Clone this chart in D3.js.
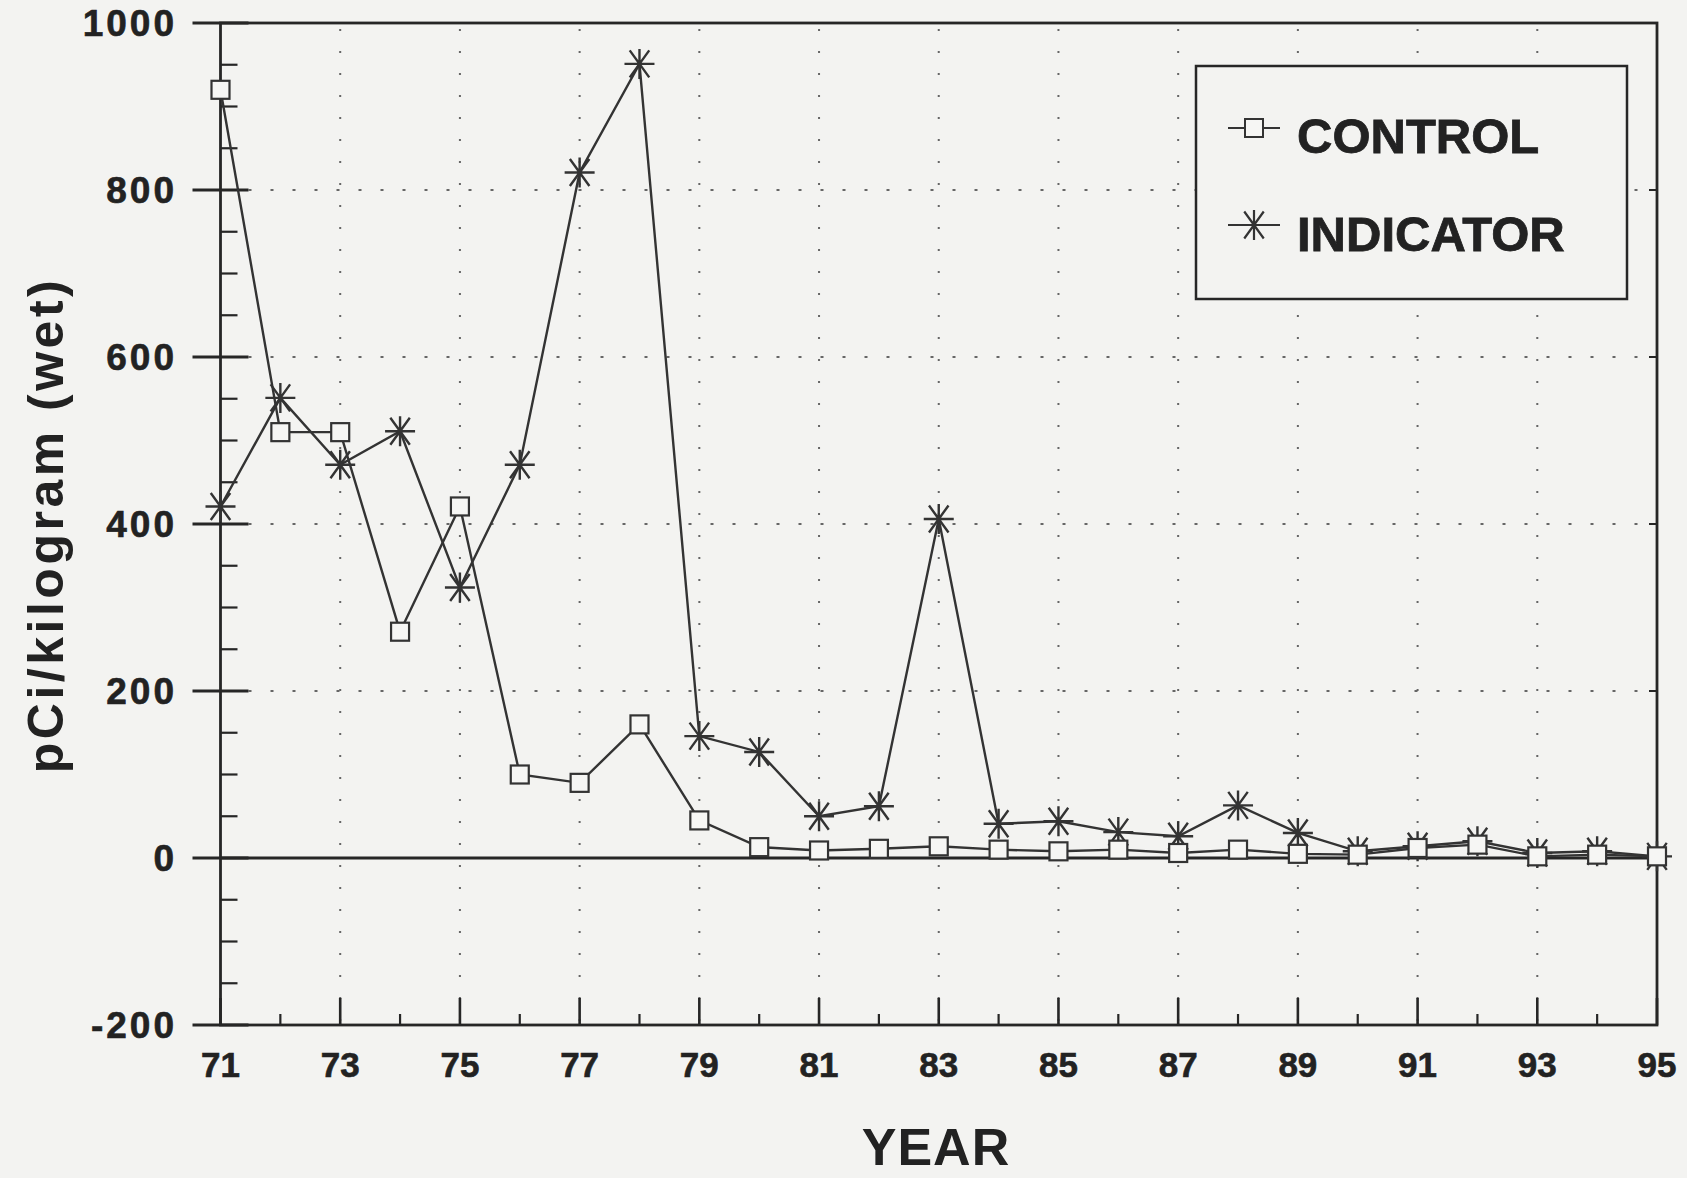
<!DOCTYPE html>
<html>
<head>
<meta charset="utf-8">
<script src="https://cdn.jsdelivr.net/npm/d3@7"></script>
<style>
  html, body { margin: 0; padding: 0; background: #f3f3f1; }
  svg { display: block; }
  text { font-family: "Liberation Sans", Arial, Helvetica, sans-serif; font-weight: bold; fill: #222; }
</style>
</head>
<body>
<svg id="chart" width="1687" height="1178"></svg>
<script>
// ---- data ----
const years = [71,72,73,74,75,76,77,78,79,80,81,82,83,84,85,86,87,88,89,90,91,92,93,94,95];
const controlValues = [920,510,510,271,421,100,90,160,45,13,9,11,14,10,8,10,6,10,5,4,12,16,2,4,2];
const indicatorValues = [421,551,471,511,324,471,821,951,146,127,50,62,406,41,44,31,26,63,30,8,14,20,6,8,2];
const seriesNames = ["CONTROL", "INDICATOR"];
const xTickLabels = [71,73,75,77,79,81,83,85,87,89,91,93,95];
const yTickLabels = [-200,0,200,400,600,800,1000];
const yGridValues = [200,400,600,800];
const xGridValues = [73,75,77,79,81,83,85,87,89,91,93];

// ---- layout ----
const svg = d3.select("#chart");
const L = 220.5, R = 1657, T = 23, B = 1025;
const x = d3.scaleLinear().domain([71, 95]).range([L, R]);
const y = d3.scaleLinear().domain([-200, 1000]).range([B, T]);
const ink = "#262626";

// grid
svg.append("g").selectAll("line").data(xGridValues).join("line")
  .attr("x1", d => x(d)).attr("x2", d => x(d)).attr("y1", T + 6).attr("y2", B)
  .attr("stroke", "#666").attr("stroke-width", 2).attr("stroke-dasharray", "2,20");
svg.append("g").selectAll("line").data(yGridValues).join("line")
  .attr("x1", L + 6).attr("x2", R).attr("y1", d => y(d)).attr("y2", d => y(d))
  .attr("stroke", "#666").attr("stroke-width", 2).attr("stroke-dasharray", "3,19");

// zero line
svg.append("line").attr("x1", L).attr("x2", R).attr("y1", y(0)).attr("y2", y(0))
  .attr("stroke", ink).attr("stroke-width", 2.8);

// frame
svg.append("rect").attr("x", L).attr("y", T).attr("width", R - L).attr("height", B - T)
  .attr("fill", "none").attr("stroke", ink).attr("stroke-width", 2.8);

// y ticks: major crossing axis, minor inside
svg.append("g").selectAll("line").data(yTickLabels).join("line")
  .attr("x1", L - 28).attr("x2", L + 28).attr("y1", d => y(d)).attr("y2", d => y(d))
  .attr("stroke", ink).attr("stroke-width", 2.8);
const yMinor = d3.range(-150, 1000, 50).filter(v => v % 200 !== 0);
svg.append("g").selectAll("line").data(yMinor).join("line")
  .attr("x1", L).attr("x2", L + 17).attr("y1", d => y(d)).attr("y2", d => y(d))
  .attr("stroke", ink).attr("stroke-width", 2.2);
svg.append("g").selectAll("line").data(yTickLabels).join("line")
  .attr("x1", R - 8).attr("x2", R).attr("y1", d => y(d)).attr("y2", d => y(d))
  .attr("stroke", ink).attr("stroke-width", 2);

// x ticks: major at odd years, minor at even
svg.append("g").selectAll("line").data(xTickLabels).join("line")
  .attr("x1", d => x(d)).attr("x2", d => x(d)).attr("y1", B).attr("y2", B - 27)
  .attr("stroke", ink).attr("stroke-width", 2.6);
svg.append("g").selectAll("line").data(years.filter(v => v % 2 === 0)).join("line")
  .attr("x1", d => x(d)).attr("x2", d => x(d)).attr("y1", B).attr("y2", B - 11)
  .attr("stroke", ink).attr("stroke-width", 2.2);

// y tick labels
svg.append("g").selectAll("text").data(yTickLabels).join("text")
  .attr("x", 174 + 3).attr("y", d => y(d) + 13)
  .attr("text-anchor", "end").attr("font-size", 37).attr("letter-spacing", 3)
  .attr("stroke", "#222").attr("stroke-width", 0.6)
  .text(d => d);

// x tick labels
svg.append("g").selectAll("text").data(xTickLabels).join("text")
  .attr("x", d => x(d)).attr("y", 1077)
  .attr("text-anchor", "middle").attr("font-size", 35)
  .attr("stroke", "#222").attr("stroke-width", 0.6)
  .text(d => d);

// axis titles
svg.append("text").attr("x", 936).attr("y", 1165).attr("text-anchor", "middle")
  .attr("font-size", 52).attr("letter-spacing", 1).text("YEAR");
svg.append("text").attr("transform", "translate(63,525) rotate(-90)")
  .attr("text-anchor", "middle").attr("font-size", 50).attr("letter-spacing", 3.5)
  .text("pCi/kilogram (wet)");

// series
const controlData = years.map((yr, i) => ({ yr, v: controlValues[i] }));
const indicatorData = years.map((yr, i) => ({ yr, v: indicatorValues[i] }));
const line = d3.line().x(d => x(d.yr)).y(d => y(d.v));

svg.append("path").datum(indicatorData).attr("d", line)
  .attr("fill", "none").attr("stroke", "#333").attr("stroke-width", 2.4);
svg.append("path").datum(controlData).attr("d", line)
  .attr("fill", "none").attr("stroke", "#333").attr("stroke-width", 2.4);

// asterisk marker path (relative shape)
function starPath(r) {
  const p = d3.path();
  p.moveTo(0, -r); p.lineTo(0, r);
  p.moveTo(-r, 0); p.lineTo(r, 0);
  const a = r * 0.65, b = r * 0.9;
  p.moveTo(-a, -b); p.lineTo(a, b);
  p.moveTo(a, -b); p.lineTo(-a, b);
  return p.toString();
}
const star = starPath(15);

svg.append("g").selectAll("path").data(indicatorData).join("path")
  .attr("transform", d => `translate(${x(d.yr)},${y(d.v)})`)
  .attr("d", star).attr("fill", "none").attr("stroke", "#333").attr("stroke-width", 2.4);

const sq = 18;
svg.append("g").selectAll("rect").data(controlData).join("rect")
  .attr("x", d => x(d.yr) - sq / 2).attr("y", d => y(d.v) - sq / 2)
  .attr("width", sq).attr("height", sq)
  .attr("fill", "#f6f6f4").attr("stroke", "#333").attr("stroke-width", 2.2);

// legend
const lg = svg.append("g");
lg.append("rect").attr("x", 1196).attr("y", 66).attr("width", 431).attr("height", 233)
  .attr("fill", "#f3f3f1").attr("stroke", ink).attr("stroke-width", 2.5);
const legendRows = [{ name: seriesNames[0], cy: 128, base: 153 }, { name: seriesNames[1], cy: 225, base: 251 }];
legendRows.forEach((r, i) => {
  lg.append("line").attr("x1", 1228).attr("x2", 1280).attr("y1", r.cy).attr("y2", r.cy)
    .attr("stroke", "#333").attr("stroke-width", 2.2);
  if (i === 0) {
    lg.append("rect").attr("x", 1254 - sq / 2).attr("y", r.cy - sq / 2).attr("width", sq).attr("height", sq)
      .attr("fill", "#f6f6f4").attr("stroke", "#333").attr("stroke-width", 2);
  } else {
    lg.append("path").attr("transform", `translate(1254,${r.cy})`).attr("d", star)
      .attr("fill", "none").attr("stroke", "#333").attr("stroke-width", 2.2);
  }
  lg.append("text").attr("x", 1297).attr("y", r.base).attr("font-size", 49)
    .attr("stroke", "#222").attr("stroke-width", 0.8).text(r.name);
});
</script>
</body>
</html>
